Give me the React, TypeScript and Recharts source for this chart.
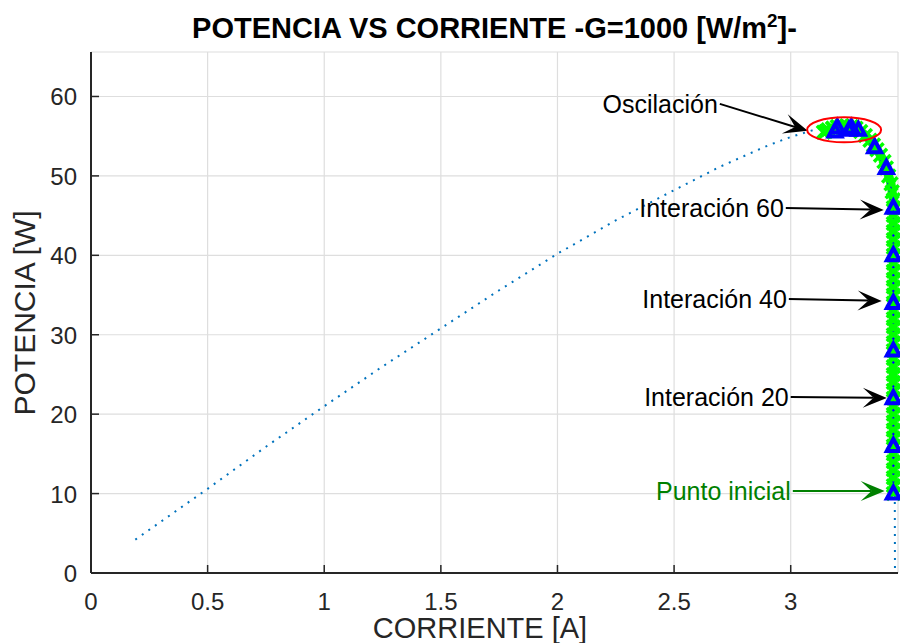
import {
  CartesianGrid,
  ComposedChart,
  Line,
  ReferenceDot,
  ReferenceLine,
  XAxis,
  YAxis,
} from "recharts";

const FONT = '"Liberation Sans", Arial, Helvetica, sans-serif';
const AXIS_COLOR = "#262626";

const X_TICKS = [0, 0.5, 1, 1.5, 2, 2.5, 3];
const Y_TICKS = [0, 10, 20, 30, 40, 50, 60];

// curva P-I del panel (línea punteada)
const PV_I = [
  0.19, 0.5, 0.75, 1.0, 1.25, 1.5, 1.75, 2.0, 2.25, 2.5, 2.7, 2.9, 3.0, 3.1,
  3.2, 3.25, 3.3, 3.34, 3.37, 3.4, 3.42, 3.435, 3.44, 3.445, 3.447,
];
const PV_P = [
  4.2, 10.6, 15.9, 21.0, 26.0, 30.8, 35.6, 40.2, 44.4, 48.2, 51.2, 53.8, 54.9,
  55.8, 56.3, 56.3, 55.8, 54.6, 53.3, 51.5, 49.5, 47.0, 45.0, 25.0, 0,
];

// iteraciones del algoritmo (marcas x verdes)
const ITER_I = [
  3.44, 3.44, 3.44, 3.44, 3.44, 3.44, 3.44, 3.44, 3.44, 3.44, 3.44, 3.44, 3.44,
  3.44, 3.44, 3.44, 3.44, 3.44, 3.44, 3.44, 3.44, 3.44, 3.44, 3.44, 3.44, 3.44,
  3.44, 3.44, 3.44, 3.44, 3.44, 3.44, 3.44, 3.44, 3.44, 3.44, 3.44, 3.44, 3.435,
  3.43, 3.42, 3.41, 3.4, 3.385, 3.37, 3.355, 3.34, 3.32, 3.3, 3.28, 3.26, 3.24,
  3.22, 3.2, 3.18, 3.16, 3.14, 3.18, 3.22, 3.26, 3.2, 3.15,
];
const ITER_P = [
  10, 11, 12, 13, 14, 15, 16, 17, 18, 19, 20, 21, 22, 23, 24, 25, 26, 27, 28,
  29, 30, 31, 32, 33, 34, 35, 36, 37, 38, 39, 40, 41, 42, 43, 44, 45, 46, 47,
  48, 49, 50, 51, 51.8, 52.6, 53.3, 53.9, 54.5, 55.1, 55.6, 56.0, 56.2, 56.3,
  56.3, 56.2, 56.0, 55.8, 55.5, 56.0, 56.3, 56.2, 56.2, 55.6,
];

// cada 10 iteraciones (triángulos azules)
const STEP_I = [
  3.44, 3.44, 3.44, 3.44, 3.44, 3.44, 3.44, 3.41, 3.36, 3.29, 3.2, 3.26, 3.19,
  3.25,
];
const STEP_P = [
  10, 16, 22, 28, 34, 40, 46, 51, 53.6, 55.8, 56.1, 56.1, 55.6, 55.8,
];

const OSC_I = 3.229;
const OSC_P = 55.8;

const NOTE_TEXT = [
  "Oscilación",
  "Interación 60",
  "Interación 40",
  "Interación 20",
  "Punto inicial",
];
const NOTE_FROM_I = [2.696, 2.979, 2.992, 3.0, 3.009];
const NOTE_FROM_P = [59.07, 45.97, 34.51, 22.17, 10.33];
const NOTE_TO_I = [3.073, 3.399, 3.39, 3.412, 3.403];
const NOTE_TO_P = [55.67, 45.72, 34.26, 22.04, 10.33];
const NOTE_COLORS = ["#000000", "#000000", "#000000", "#000000", "#008000"];

const pvData = PV_I.map((i, k) => ({ i, p: PV_P[k] }));
const iterData = ITER_I.map((i, k) => ({ i, p: ITER_P[k] }));
const stepData = STEP_I.map((i, k) => ({ i, p: STEP_P[k] }));

function XTick({ x, y, payload }: any) {
  return (
    <g>
      <line x1={x} x2={x} y1={y} y2={y - 8} stroke={AXIS_COLOR} strokeWidth={1.5} />
      <text
        x={x}
        y={y + 37}
        textAnchor="middle"
        fontSize={24}
        fontFamily={FONT}
        fill={AXIS_COLOR}
      >
        {payload.value}
      </text>
    </g>
  );
}

function YTick({ x, y, payload }: any) {
  return (
    <g>
      <line x1={x} x2={x + 8} y1={y} y2={y} stroke={AXIS_COLOR} strokeWidth={1.5} />
      <text
        x={x - 14}
        y={y + 9}
        textAnchor="end"
        fontSize={24}
        fontFamily={FONT}
        fill={AXIS_COLOR}
      >
        {payload.value}
      </text>
    </g>
  );
}

function XMark({ cx, cy, index }: any) {
  const s = 6.5;
  return (
    <path
      key={`x-${index}`}
      d={`M${cx - s},${cy - s}L${cx + s},${cy + s}M${cx - s},${cy + s}L${cx + s},${cy - s}`}
      stroke="#00ff00"
      strokeWidth={3.5}
      fill="none"
    />
  );
}

function TriMark({ cx, cy, index }: any) {
  return (
    <path
      key={`t-${index}`}
      d={`M${cx},${cy - 7}L${cx + 6.5},${cy + 5}L${cx - 6.5},${cy + 5}Z`}
      stroke="#0000ff"
      strokeWidth={4}
      strokeLinejoin="miter"
      fill="none"
    />
  );
}

function arrowShape(text: string, color: string) {
  return (props: any) => {
    const { x1, y1, x2, y2 } = props;
    const dx = x2 - x1;
    const dy = y2 - y1;
    const len = Math.hypot(dx, dy) || 1;
    const ux = dx / len;
    const uy = dy / len;
    const L = 24;
    const W = 10;
    const bx = x2 - ux * L;
    const by = y2 - uy * L;
    const nx = x2 - ux * L * 0.55;
    const ny = y2 - uy * L * 0.55;
    const head = `M${x2},${y2}L${bx - uy * W},${by + ux * W}L${nx},${ny}L${bx + uy * W},${by - ux * W}Z`;
    return (
      <g>
        <line x1={x1} y1={y1} x2={nx} y2={ny} stroke={color} strokeWidth={2} />
        <path d={head} fill={color} stroke="none" />
        <text
          x={x1 - 2}
          y={y1 + 9}
          textAnchor="end"
          fontSize={25}
          fontFamily={FONT}
          fill={color}
        >
          {text}
        </text>
      </g>
    );
  };
}

export default function App() {
  return (
    <div
      style={{
        position: "absolute",
        left: 0,
        top: 0,
        width: 900,
        height: 643,
        background: "#ffffff",
        fontFamily: FONT,
      }}
    >
      <div
        style={{
          position: "absolute",
          left: 91,
          width: 807,
          top: 14,
          textAlign: "center",
          fontSize: 29,
          lineHeight: "29px",
          fontWeight: "bold",
          color: "#000000",
          whiteSpace: "nowrap",
        }}
      >
        POTENCIA VS CORRIENTE -G=1000 [W/m
        <span style={{ fontSize: "0.65em", position: "relative", top: "-0.6em" }}>2</span>
        ]-
      </div>
      <ComposedChart
        width={900}
        height={643}
        margin={{ top: 52, right: 2, bottom: 0, left: 0 }}
      >
        <CartesianGrid stroke="#dedede" strokeWidth={1.2} />
        <XAxis
          type="number"
          dataKey="i"
          domain={[0, 3.46]}
          ticks={X_TICKS}
          interval={0}
          height={70}
          tickSize={0}
          tickMargin={0}
          tickLine={false}
          axisLine={{ stroke: AXIS_COLOR, strokeWidth: 2 }}
          tick={<XTick />}
          label={() => (
            <text
              x={480}
              y={638}
              textAnchor="middle"
              fontSize={29}
              fontFamily={FONT}
              fill={AXIS_COLOR}
            >
              CORRIENTE [A]
            </text>
          )}
        />
        <YAxis
          type="number"
          domain={[0, 65.6]}
          ticks={Y_TICKS}
          interval={0}
          width={91}
          tickSize={0}
          tickMargin={0}
          tickLine={false}
          axisLine={{ stroke: AXIS_COLOR, strokeWidth: 2 }}
          tick={<YTick />}
          label={() => (
            <text
              x={35}
              y={313}
              transform="rotate(-90 35 313)"
              textAnchor="middle"
              fontSize={30}
              fontFamily={FONT}
              fill={AXIS_COLOR}
            >
              POTENCIA [W]
            </text>
          )}
        />
        <Line
          data={iterData}
          dataKey="p"
          type="linear"
          stroke="#00ff00"
          strokeWidth={9}
          dot={XMark}
          activeDot={false}
          isAnimationActive={false}
        />
        <Line
          data={stepData}
          dataKey="p"
          type="linear"
          stroke="#0000ff"
          strokeWidth={3.5}
          strokeDasharray="12 5 3 5"
          dot={TriMark}
          activeDot={false}
          isAnimationActive={false}
        />
        <Line
          data={pvData}
          dataKey="p"
          type="linear"
          stroke="#0072BD"
          strokeWidth={2}
          strokeDasharray="2 6"
          dot={false}
          activeDot={false}
          isAnimationActive={false}
        />
        <ReferenceDot
          x={OSC_I}
          y={OSC_P}
          shape={(p: any) => (
            <ellipse
              cx={p.cx}
              cy={p.cy}
              rx={37}
              ry={12.5}
              fill="none"
              stroke="#ff0000"
              strokeWidth={2}
            />
          )}
        />
        {NOTE_TEXT.map((text, k) => (
          <ReferenceLine
            key={text}
            segment={[
              { x: NOTE_FROM_I[k], y: NOTE_FROM_P[k] },
              { x: NOTE_TO_I[k], y: NOTE_TO_P[k] },
            ]}
            shape={arrowShape(text, NOTE_COLORS[k])}
          />
        ))}
      </ComposedChart>
    </div>
  );
}
